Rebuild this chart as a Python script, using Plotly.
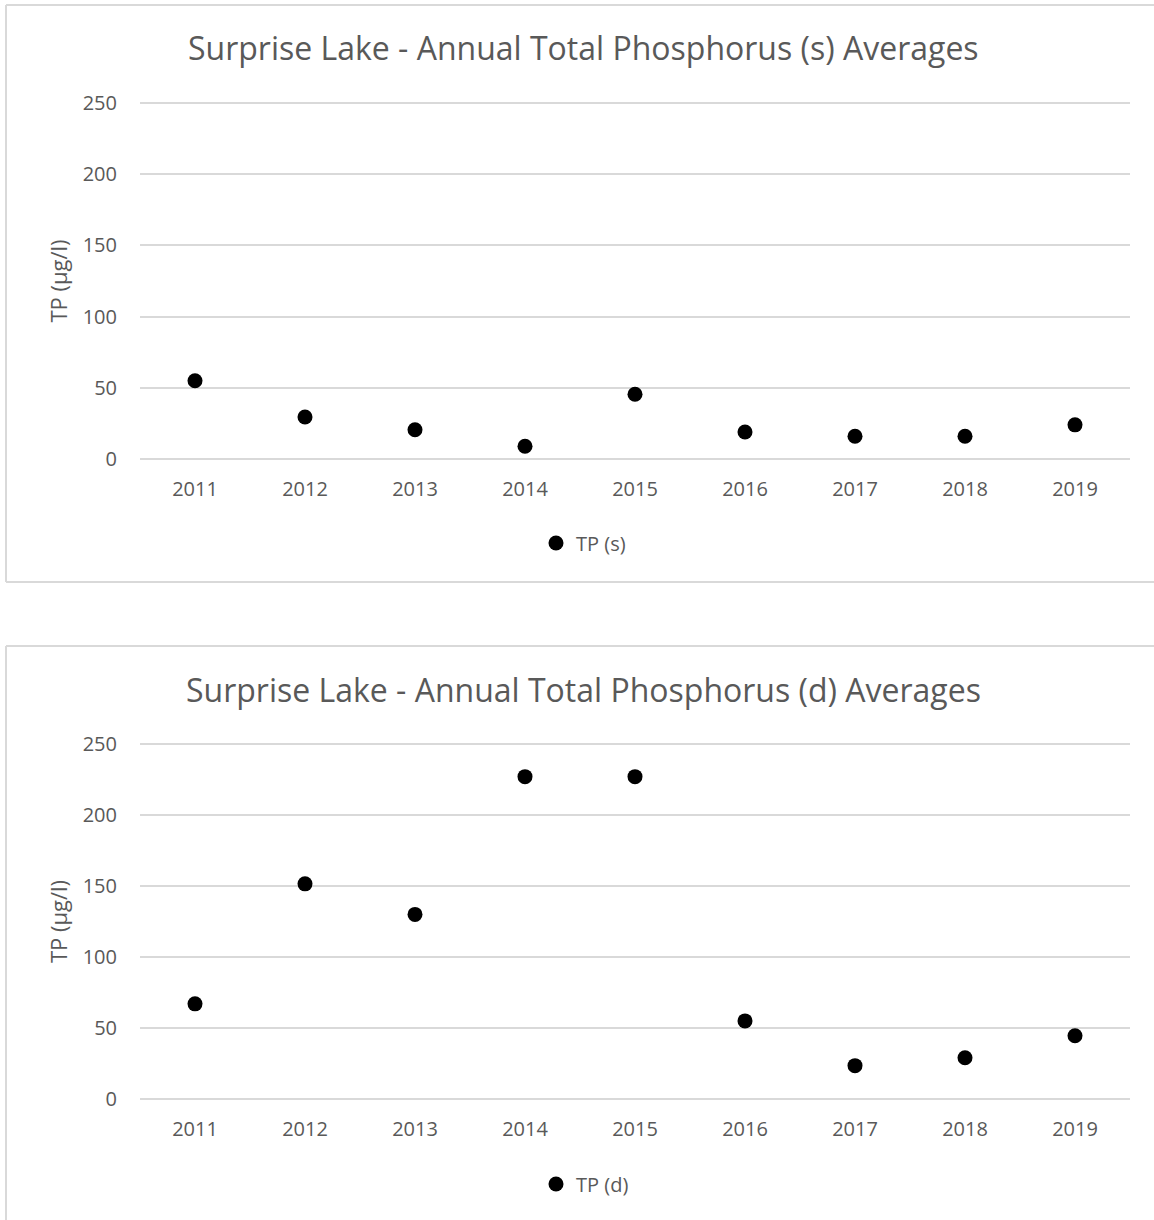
import plotly.graph_objects as go

years = ["2011", "2012", "2013", "2014", "2015", "2016", "2017", "2018", "2019"]
tp_s = [55, 29.5, 20.5, 9, 45.5, 19, 16, 16, 24]
tp_d = [67, 151.5, 130, 227, 227, 55, 23.5, 29, 44.5]
y_ticks = [0, 50, 100, 150, 200, 250]
titles = ["Surprise Lake - Annual Total Phosphorus (s) Averages",
          "Surprise Lake - Annual Total Phosphorus (d) Averages"]
names = ["TP (s)", "TP (d)"]

W, H = 1154, 1220
FONT = "Segoe UI, Open Sans, Noto Sans, sans-serif"
TXT = "#595959"
GRID = "#d9d9d9"
PAD = 2  # extra value units so that end gridlines are drawn


def px(x):
    return x / W


def py(y):
    return 1 - y / H


def ydomain(pix0, pix250):
    ppu = (pix0 - pix250) / 250.0
    return [py(pix0 + PAD * ppu), py(pix250 - PAD * ppu)]


fig = go.Figure()
fig.add_trace(go.Scatter(x=years, y=tp_s, mode="markers", name=names[0],
                         marker=dict(color="black", size=15),
                         xaxis="x", yaxis="y", legend="legend"))
fig.add_trace(go.Scatter(x=years, y=tp_d, mode="markers", name=names[1],
                         marker=dict(color="black", size=15),
                         xaxis="x2", yaxis="y2", legend="legend2"))

xcommon = dict(type="category", range=[-0.5, 8.5], showgrid=False, zeroline=False,
               showline=False, ticks="outside", ticklen=9, tickcolor="rgba(0,0,0,0)",
               tickfont=dict(family=FONT, size=20, color=TXT), automargin=False,
               domain=[px(140), px(1130)], fixedrange=True)
ycommon = dict(range=[-PAD, 250 + PAD], tickvals=y_ticks, showgrid=True, gridcolor=GRID,
               gridwidth=2, zeroline=False, showline=False, ticks="outside", ticklen=18,
               tickcolor="rgba(0,0,0,0)", automargin=False,
               tickfont=dict(family=FONT, size=20, color=TXT),
               title=dict(text="TP (µg/l)", font=dict(family=FONT, size=22, color=TXT),
                          standoff=8),
               fixedrange=True)

fig.update_layout(
    template="none",
    width=W, height=H,
    margin=dict(l=0, r=0, t=0, b=0, pad=0),
    paper_bgcolor="white", plot_bgcolor="white",
    xaxis=dict(**xcommon, anchor="y"),
    yaxis=dict(**ycommon, anchor="x", domain=ydomain(459, 103)),
    xaxis2=dict(**xcommon, anchor="y2"),
    yaxis2=dict(**ycommon, anchor="x2", domain=ydomain(1099, 744)),
    legend=dict(x=px(536), y=py(543), xanchor="left", yanchor="middle",
                orientation="h", font=dict(family=FONT, size=20, color=TXT),
                bgcolor="rgba(0,0,0,0)"),
    legend2=dict(x=px(536), y=py(1184), xanchor="left", yanchor="middle",
                 orientation="h", font=dict(family=FONT, size=20, color=TXT),
                 bgcolor="rgba(0,0,0,0)"),
    showlegend=True,
)

# chart border lines (right edge lies outside the picture)
border = dict(color=GRID, width=2)
for (x0, y0, x1, y1) in [(6, 5, 1154, 5), (6, 5, 6, 582), (6, 582, 1154, 582),
                         (6, 646, 1154, 646), (6, 646, 6, 1220)]:
    fig.add_shape(type="line", xref="paper", yref="paper",
                  x0=px(x0), x1=px(x1), y0=py(y0), y1=py(y1),
                  line=border, layer="below")

for t, yc in zip(titles, [48, 689]):
    fig.add_annotation(text=t, xref="paper", yref="paper", x=px(583), y=py(yc),
                       xanchor="center", yanchor="middle", showarrow=False,
                       font=dict(family=FONT, size=32, color=TXT))

fig.write_html("out.html", config={"displayModeBar": False},
               post_script="document.body.style.margin='0';document.body.style.padding='0';")
